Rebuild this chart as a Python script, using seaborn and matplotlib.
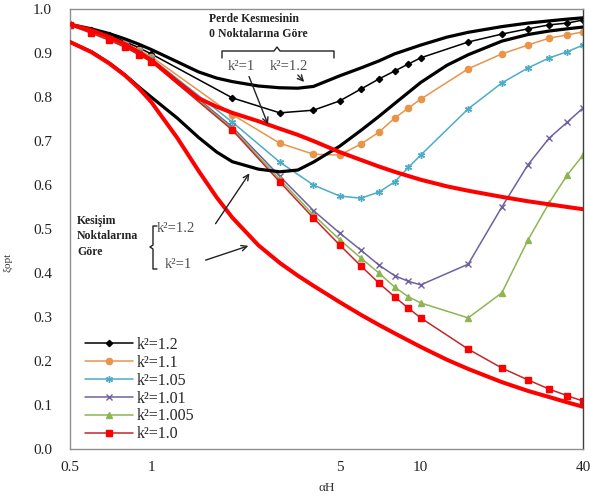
import matplotlib
matplotlib.use('Agg')
import matplotlib.pyplot as plt
import seaborn as sns
import pandas as pd

# alpha*H values of the computed points (markers)
aH = [0.5, 0.6, 0.7, 0.8, 0.9, 1, 2, 3, 4, 5, 6, 7, 8, 9, 10, 15, 20, 25, 30, 35, 40]

labels = ['k²=1.2', 'k²=1.1', 'k²=1.05', 'k²=1.01', 'k²=1.005', 'k²=1.0']
xi_k120 = [0.965, 0.953, 0.940, 0.926, 0.912, 0.898, 0.798, 0.764, 0.770, 0.791, 0.818,
           0.841, 0.859, 0.875, 0.889, 0.925, 0.943, 0.955, 0.964, 0.968, 0.975]
xi_k110 = [0.964, 0.951, 0.937, 0.922, 0.907, 0.892, 0.760, 0.695, 0.670, 0.668, 0.693,
           0.720, 0.752, 0.775, 0.795, 0.864, 0.898, 0.918, 0.934, 0.941, 0.948]
xi_k105 = [0.964, 0.950, 0.935, 0.920, 0.904, 0.888, 0.743, 0.652, 0.600, 0.575, 0.570,
           0.584, 0.607, 0.640, 0.668, 0.773, 0.832, 0.866, 0.889, 0.903, 0.918]
xi_k101 = [0.963, 0.948, 0.932, 0.917, 0.900, 0.884, 0.732, 0.620, 0.542, 0.491, 0.452,
           0.418, 0.394, 0.381, 0.373, 0.420, 0.550, 0.646, 0.707, 0.743, 0.775]
xi_k1005 = [0.963, 0.947, 0.931, 0.915, 0.898, 0.882, 0.728, 0.613, 0.532, 0.476, 0.434,
            0.400, 0.368, 0.346, 0.332, 0.298, 0.355, 0.475, 0.560, 0.623, 0.668]
xi_k100 = [0.963, 0.945, 0.929, 0.913, 0.896, 0.880, 0.725, 0.607, 0.525, 0.464, 0.416,
           0.377, 0.346, 0.320, 0.298, 0.227, 0.184, 0.157, 0.136, 0.121, 0.109]

# reference curves (no markers)
aH_ref = [0.5, 0.6, 0.7, 0.8, 0.9, 1, 1.25, 1.5, 1.75, 2, 2.5, 3, 3.5, 4, 5, 6, 7, 8,
          10, 12.5, 15, 20, 25, 30, 35, 40]
zero_k120 = [0.965, 0.955, 0.944, 0.932, 0.920, 0.908, 0.880, 0.857, 0.843, 0.835, 0.825,
             0.821, 0.820, 0.824, 0.848, 0.866, 0.882, 0.898, 0.918, 0.936, 0.947, 0.960,
             0.968, 0.973, 0.977, 0.980]
zero_k100 = [0.965, 0.952, 0.936, 0.920, 0.902, 0.884, 0.835, 0.797, 0.778, 0.764, 0.745,
             0.728, 0.714, 0.700, 0.675, 0.657, 0.642, 0.630, 0.612, 0.597, 0.587, 0.573,
             0.563, 0.556, 0.550, 0.545]
cross_k120 = [0.925, 0.903, 0.877, 0.850, 0.823, 0.800, 0.752, 0.708, 0.675, 0.653, 0.636,
              0.630, 0.634, 0.652, 0.688, 0.724, 0.756, 0.785, 0.833, 0.872, 0.896, 0.927,
              0.942, 0.950, 0.955, 0.959]
cross_k100 = [0.925, 0.902, 0.876, 0.849, 0.820, 0.789, 0.707, 0.632, 0.572, 0.526, 0.463,
              0.423, 0.394, 0.371, 0.334, 0.305, 0.282, 0.263, 0.232, 0.203, 0.182, 0.152,
              0.132, 0.118, 0.106, 0.096]

sns.set_style('white')
plt.rcParams['font.family'] = ['Liberation Serif', 'DejaVu Serif']

fig = plt.figure(figsize=(5.9, 4.97), dpi=100)
ax = fig.add_axes([70 / 590, 48 / 497, 513 / 590, 440 / 497])

series = [xi_k120, xi_k110, xi_k105, xi_k101, xi_k1005, xi_k100]
colors = ['#000000', '#E8954A', '#4BACC6', '#7060A0', '#8DB553', '#C0282A']
markers = ['D', 'o', (6, 2, 0), 'x', '^', 's']
msizes = [3.2, 4.5, 5, 5, 4.5, 3.8]

for lab, vals, col, mk, ms in zip(labels, series, colors, markers, msizes):
    df = pd.DataFrame({'aH': aH, 'xi': vals})
    mc = '#FF0000' if lab == 'k²=1.0' else col
    sns.lineplot(data=df, x='aH', y='xi', ax=ax, color=col, lw=1.1, marker=mk,
                 markersize=ms, markerfacecolor=mc, markeredgecolor=mc,
                 markeredgewidth=1, label=lab)

# thick reference curves
for vals, col, lw in [(zero_k120, 'black', 2.3), (cross_k120, 'black', 2.3),
                      (zero_k100, '#FF0000', 2.9), (cross_k100, '#FF0000', 2.9)]:
    sns.lineplot(x=aH_ref, y=vals, ax=ax, color=col, lw=lw, legend=False, zorder=3)

ax.set_xscale('log')
ax.set_xlim(0.5, 40)
ax.set_ylim(0, 1.0)
ax.set_xticks([0.5, 1, 5, 10, 40])
ax.set_xticklabels(['0.5', '1', '5', '10', '40'])
ax.set_xticks([1.5, 2, 2.5, 3, 3.5, 4, 4.5, 15, 20, 25, 30, 35], minor=True)
ax.set_xticklabels([], minor=True)
ax.set_yticks([i / 10 for i in range(11)])
ax.set_yticklabels([f'{i / 10:.1f}' for i in range(11)])
ax.tick_params(axis='x', which='both', direction='inout', length=5, width=0.8,
               colors='#808080', labelcolor='#222222', labelsize=11, pad=6)
ax.tick_params(axis='y', direction='out', length=4, width=0.8, colors='#808080',
               labelcolor='#222222', labelsize=11, pad=9)
ax.set_xlabel('αH', fontsize=9.5, color='#333333', labelpad=6)
ax.set_ylabel('ξopt', fontsize=8, color='#333333')
ax.yaxis.set_label_coords(-0.113, 0.425)
for side in ['left', 'bottom', 'top']:
    ax.spines[side].set_color('#909090')
ax.spines['right'].set_color('#404040')
for sp in ax.spines.values():
    sp.set_linewidth(1.0)

ax.legend(loc='lower left', bbox_to_anchor=(0.005, -0.014), frameon=False, fontsize=11.5,
          handlelength=3.0, handletextpad=0.2, labelspacing=0.12, borderpad=0.3)


def px(x, y):
    return ((x - 70) / 513, (449 - y) / 440)


def brace(points):
    xs, ys = zip(*[px(*p) for p in points])
    ax.plot(xs, ys, transform=ax.transAxes, color='#222222', lw=1.0, clip_on=False)


def arrow(tail, tip):
    ax.annotate('', xy=px(*tip), xytext=px(*tail), xycoords='axes fraction',
                textcoords='axes fraction',
                arrowprops=dict(arrowstyle='->', color='#222222', lw=1.0))


# Perde Kesmesinin 0 noktalarina gore
ax.text(*px(209, 19), 'Perde Kesmesinin', transform=ax.transAxes, fontsize=8.5,
        fontweight='bold', color='#222222', va='center', ha='left')
ax.text(*px(209, 34), '0 Noktalarına Göre', transform=ax.transAxes, fontsize=8.5,
        fontweight='bold', color='#222222', va='center', ha='left')
brace([(222, 58), (222, 51), (274, 51), (277, 47), (280, 51), (334, 51), (334, 58)])
ax.text(*px(228, 66), 'k²=1', transform=ax.transAxes, fontsize=10.5, color='#505050',
        va='center', ha='left')
ax.text(*px(270, 66), 'k²=1.2', transform=ax.transAxes, fontsize=10.5, color='#505050',
        va='center', ha='left')
arrow((248, 74), (269, 127))
arrow((296, 73), (306, 84))

# Kesisim noktalarina gore
for txt, yy in [('Kesişim', 221), ('Noktalarına', 236), ('Göre', 252)]:
    ax.text(*px(77, yy), txt, transform=ax.transAxes, fontsize=8.5, fontweight='bold',
            color='#222222', va='center', ha='left')
brace([(157, 226), (153, 226), (153, 245), (150, 247), (153, 249), (153, 269), (157, 269)])
ax.text(*px(157, 229), 'k²=1.2', transform=ax.transAxes, fontsize=10.5, color='#505050',
        va='center', ha='left')
ax.text(*px(165, 265), 'k²=1', transform=ax.transAxes, fontsize=10.5, color='#505050',
        va='center', ha='left')
arrow((214, 226), (251, 171))
arrow((203, 261), (251, 245))

fig.savefig('out.png', dpi=100)
